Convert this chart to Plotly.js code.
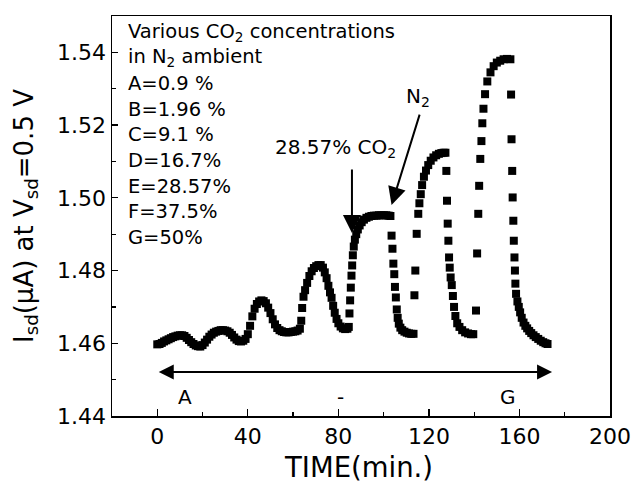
<!DOCTYPE html>
<html>
<head>
<meta charset="utf-8">
<script src="https://cdn.plot.ly/plotly-3.0.1.min.js"></script>
<style>html,body{margin:0;padding:0;background:#fff;}#chart{width:633px;height:485px;}</style>
</head>
<body>
<div id="chart"></div>
<script>
// Time (min.) and current (uA)
const time = [
  0,1,2,3,4,5,6,7,8,9,10,11,12,13,14,15,16,17,18,19,20,21,22,23,24,25,26,27,28,29,30,31,
  32,33,34,35,36,37,38,39,40,41,42,43,44,45,46,47,48,49,50,51,52,53,54,55,56,57,58,59,60,61,62,63,
  63.6,64.0,64.6,65.3,66.2,67.2,68.2,69.2,70.2,71.2,72.2,73.2,74.0,74.8,75.6,76.3,77.0,77.7,78.4,79.2,80.0,81.0,82.0,83.0,84.0,
  84.6,84.9,85.2,85.5,85.8,86.1,86.4,86.8,87.3,87.9,88.6,89.4,90.3,91.3,92.4,93.5,94.6,95.7,96.8,97.9,99.0,100.1,101.2,102.2,103.0,
  103.5,103.9,104.3,104.7,105.0,105.4,105.8,106.2,106.7,107.4,108.2,109.2,110.2,111.2,112.2,113.2,
  113.6,114.0,114.6,115.3,115.8,116.4,117.0,117.8,118.7,119.7,120.8,122.0,123.2,124.4,125.5,126.5,127.3,
  127.7,128.0,128.3,128.6,128.9,129.2,129.6,130.1,130.6,131.1,131.7,132.5,133.5,134.7,136.0,137.3,138.6,139.6,
  140.8,141.3,141.8,142.2,142.7,143.2,143.6,144.1,144.8,145.8,147.2,148.6,150.0,151.5,153.0,154.5,156.0,
  156.3,156.5,156.8,157.0,157.3,157.5,157.8,158.0,158.2,158.5,159.1,159.7,160.3,161.0,161.8,162.6,163.4,164.3,165.2,166.2,167.2,168.3,169.4,170.5,171.5,172.4
];
const current = [
  1.4597,1.4598,1.4601,1.4605,1.4608,1.4611,1.4614,1.4617,1.4619,1.4621,1.4622,1.4622,1.4620,1.4615,1.4609,1.4603,
  1.4598,1.4594,1.4592,1.4591,1.4595,1.4602,1.4610,1.4618,1.4624,1.4629,1.4632,1.4634,1.4636,1.4636,1.4635,1.4633,
  1.4629,1.4623,1.4616,1.4610,1.4606,1.4605,1.4607,1.4612,1.4625,1.4648,1.4674,1.4695,1.4708,1.4715,1.4718,1.4716,
  1.4710,1.4698,1.4683,1.4666,1.4652,1.4642,1.4636,1.4633,1.4631,1.4630,1.4630,1.4631,1.4632,1.4633,1.4635,1.4640,
  1.4662,1.4697,1.4728,1.4746,1.4766,1.4785,1.4798,1.4807,1.4812,1.4815,1.4815,1.4808,1.4795,1.4779,1.4758,1.4740,1.4725,1.4703,1.4684,1.4667,1.4655,1.4646,1.4641,1.4639,1.4640,
  1.4645,1.4682,1.4718,1.4753,1.4786,1.4814,1.4842,1.4866,1.4885,1.4900,1.4913,1.4924,1.4933,1.4940,1.4945,1.4948,1.4950,1.4951,1.4951,1.4952,1.4952,1.4952,1.4952,1.4951,1.4950,
  1.4896,1.4860,1.4819,1.4790,1.4755,1.4726,1.4693,1.4670,1.4654,1.4643,1.4636,1.4632,1.4629,1.4627,1.4626,1.4626,
  1.4732,1.4800,1.4901,1.4956,1.4985,1.5010,1.5035,1.5058,1.5075,1.5090,1.5102,1.5111,1.5117,1.5121,1.5123,1.5124,1.5124,
  1.5074,1.4992,1.4929,1.4882,1.4836,1.4808,1.4781,1.4760,1.4730,1.4700,1.4675,1.4655,1.4645,1.4636,1.4630,1.4627,1.4625,1.4625,
  1.4690,1.4847,1.4956,1.5033,1.5107,1.5156,1.5205,1.5245,1.5285,1.5320,1.5345,1.5362,1.5372,1.5377,1.5381,1.5382,1.5381,
  1.5284,1.5161,1.5074,1.5001,1.4937,1.4882,1.4836,1.4800,1.4764,1.4736,1.4715,1.4700,1.4685,1.4670,1.4657,1.4648,1.4641,1.4634,1.4628,1.4622,1.4617,1.4612,1.4607,1.4603,1.4600,1.4598
];
const xTicks = [0, 40, 80, 120, 160, 200];
const yTicks = [1.44, 1.46, 1.48, 1.50, 1.52, 1.54];
const legendLines = [
  "Various CO<sub>2</sub> concentrations",
  "in N<sub>2</sub> ambient",
  "A=0.9 %", "B=1.96 %", "C=9.1 %", "D=16.7%", "E=28.57%", "F=37.5%", "G=50%"
];
const FONT = "DejaVu Sans, Arial, sans-serif";

const trace = {
  x: time, y: current, type: "scatter", mode: "markers",
  marker: {symbol: "square", size: 8, color: "#000"},
  hoverinfo: "skip"
};

const annotations = [];
legendLines.forEach((t, i) => {
  annotations.push({
    xref: "paper", yref: "paper", x: 0.0285, y: (416 - (32 + 25.7 * i)) / 400,
    xanchor: "left", yanchor: "middle", text: t, showarrow: false,
    font: {family: FONT, size: 19.5, color: "#000"}
  });
});
// stimulus labels
annotations.push({x: 78.8, y: 1.5137, xref: "x", yref: "y", text: "28.57% CO<sub>2</sub>", showarrow: false,
  font: {family: FONT, size: 20, color: "#000"}});
annotations.push({x: 115, y: 1.5277, xref: "x", yref: "y", text: "N<sub>2</sub>", showarrow: false,
  font: {family: FONT, size: 20, color: "#000"}});
// arrows
annotations.push({x: 86, y: 1.4903, ax: 86, ay: 1.5082, xref: "x", yref: "y", axref: "x", ayref: "y",
  text: "", showarrow: true, arrowhead: 2, arrowwidth: 2, arrowsize: 1.8, arrowcolor: "#000"});
annotations.push({x: 103.5, y: 1.498, ax: 116.1, ay: 1.5233, xref: "x", yref: "y", axref: "x", ayref: "y",
  text: "", showarrow: true, arrowhead: 2, arrowwidth: 2, arrowsize: 1.8, arrowcolor: "#000"});
annotations.push({x: 174.4, y: 1.4521, ax: 0, ay: 1.4521, xref: "x", yref: "y", axref: "x", ayref: "y",
  text: "", showarrow: true, arrowhead: 2, startarrowhead: 2, arrowside: "end+start",
  arrowwidth: 2, arrowsize: 1.5, startarrowsize: 1.5, arrowcolor: "#000"});
// range labels
[["A", 12.3], ["-", 80.8], ["G", 155]].forEach(([t, xv]) => {
  annotations.push({x: xv, y: 1.4452, xref: "x", yref: "y", text: t, showarrow: false,
    font: {family: FONT, size: 20, color: "#000"}});
});
// axis titles
annotations.push({xref: "paper", yref: "paper", x: (25 - 112) / 498, y: 0.5, xanchor: "center", yanchor: "middle",
  textangle: -90, text: "I<sub>sd</sub>(μA) at V<sub>sd</sub>=0.5 V", showarrow: false,
  font: {family: FONT, size: 26, color: "#000"}});
annotations.push({xref: "paper", yref: "paper", x: (358 - 112) / 498, y: (416 - 467) / 400, xanchor: "center", yanchor: "middle",
  text: "TIME(min.)", showarrow: false, font: {family: FONT, size: 27.5, color: "#000"}});

const layout = {
  width: 633, height: 485,
  margin: {l: 112, r: 23, t: 16, b: 69, pad: 0},
  paper_bgcolor: "#fff", plot_bgcolor: "#fff",
  showlegend: false,
  font: {family: FONT, color: "#000"},
  xaxis: {
    range: [-20, 200], tickvals: xTicks, ticktext: xTicks.map(String),
    ticks: "inside", ticklen: 7, tickwidth: 1.3, tickcolor: "#000",
    showline: true, linecolor: "#000", linewidth: 1.5, mirror: true,
    showgrid: false, zeroline: false,
    tickfont: {family: FONT, size: 22, color: "#000"},
    minor: {dtick: 20, tick0: 0, ticks: "inside", ticklen: 4, tickwidth: 1.2, tickcolor: "#000", showgrid: false}
  },
  yaxis: {
    range: [1.44, 1.55], tickvals: yTicks, ticktext: yTicks.map(v => v.toFixed(2)),
    ticks: "inside", ticklen: 6, tickwidth: 1.3, tickcolor: "#000",
    showline: true, linecolor: "#000", linewidth: 1.5, mirror: true,
    showgrid: false, zeroline: false,
    tickfont: {family: FONT, size: 22, color: "#000"},
    minor: {dtick: 0.01, tick0: 1.44, ticks: "inside", ticklen: 4, tickwidth: 1.2, tickcolor: "#000", showgrid: false}
  },
  annotations: annotations
};

Plotly.newPlot("chart", [trace], layout, {displayModeBar: false, staticPlot: true});
</script>
</body>
</html>
